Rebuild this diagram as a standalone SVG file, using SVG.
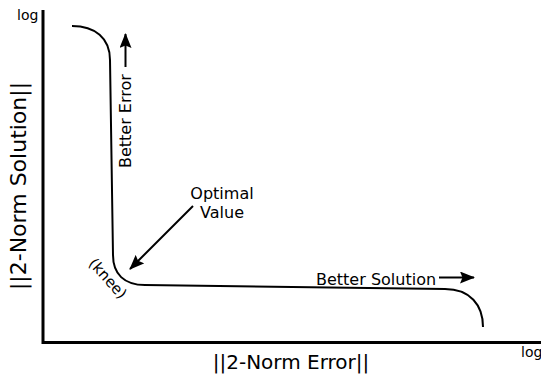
<svg xmlns="http://www.w3.org/2000/svg" width="541" height="380" viewBox="0 0 541 380">
<style>
text{font-family:"DejaVu Sans","Liberation Sans",sans-serif;fill:#000}
.axis{stroke:#000;stroke-width:3;fill:none}
.curve{stroke:#000;stroke-width:2;fill:none}
.arr{stroke:#000;stroke-width:2;fill:none;marker-end:url(#head)}
.lbl{font-size:16px}
.ax{font-size:20px}
.log{font-size:14px}
</style>
<defs>
<marker id="head" markerUnits="userSpaceOnUse" markerWidth="16" markerHeight="13" refX="14" refY="6" orient="auto">
<path d="M0,0 L15,6 L0,12 L2.5,6 z" fill="#000"/>
</marker>
</defs>
<rect width="541" height="380" fill="#fff"/>
<g id="axes">
<line class="axis" x1="43" y1="10" x2="43" y2="344"/>
<line class="axis" x1="42" y1="342.5" x2="541" y2="342.5"/>
<text class="log" x="17" y="20">log</text>
<text class="log" x="521" y="357">log</text>
<text class="ax" x="291" y="369" text-anchor="middle">||2-Norm Error||</text>
<text class="ax" x="26" y="186" text-anchor="middle" transform="rotate(-90 26 186)" style="font-size:22px">||2-Norm Solution||</text>
</g>
<g id="curve">
<path class="curve" d="M72,26 C95,26 110,38 110,60 L113,255 C113,274 124,285 145,285 L445,289 C470,289 483,305 483,327"/>
</g>
<g id="connectors">
<line class="arr" x1="125.5" y1="67" x2="125.5" y2="34"/>
<line class="arr" x1="193" y1="206" x2="130" y2="269"/>
<line class="arr" x1="439" y1="277.5" x2="474" y2="277.5"/>
</g>
<g id="better-error">
<text class="lbl" x="131" y="168" transform="rotate(-90 131 168)">Better Error</text>
</g>
<g id="optimal">
<text class="lbl" x="222" y="199" text-anchor="middle">Optimal</text>
<text class="lbl" x="222" y="218" text-anchor="middle">Value</text>
</g>
<g id="knee">
<text x="104" y="282" text-anchor="middle" transform="rotate(48 104 282)" style="font-size:15px">(knee)</text>
</g>
<g id="better-solution">
<text class="lbl" x="316" y="285">Better Solution</text>
</g>
</svg>
